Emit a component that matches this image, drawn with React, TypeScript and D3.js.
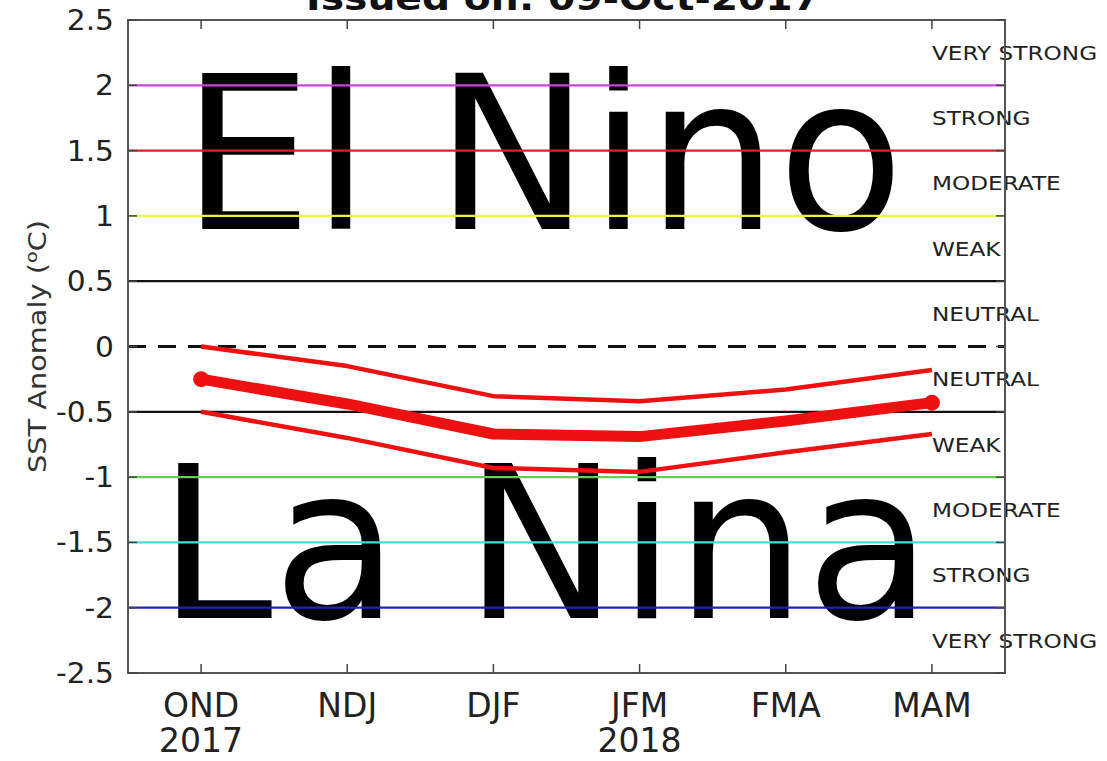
import React, { useEffect, useRef } from 'react'
import * as d3 from 'd3'

// ENSO forecast plume, issued 09-Oct-2017
const seasons = ['OND', 'NDJ', 'DJF', 'JFM', 'FMA', 'MAM']
const yearLabels = ['2017', '', '', '2018', '', '']
const meanValues = [-0.25, -0.44, -0.67, -0.69, -0.57, -0.43]
const upperValues = [0.0, -0.15, -0.38, -0.42, -0.33, -0.18]
const lowerValues = [-0.5, -0.7, -0.93, -0.96, -0.81, -0.67]
const yTicks = [2.5, 2, 1.5, 1, 0.5, 0, -0.5, -1, -1.5, -2, -2.5]
const thresholdValues = [2, 1.5, 1, 0.5, 0, -0.5, -1, -1.5, -2]
const thresholdColors = ['#cc44dd', '#dd2222', '#eeee55', '#111111', '#111111', '#111111', '#66cc55', '#44dddd', '#2222bb']
const categoryLabels = ['VERY STRONG', 'STRONG', 'MODERATE', 'WEAK', 'NEUTRAL', 'NEUTRAL', 'WEAK', 'MODERATE', 'STRONG', 'VERY STRONG']
const categoryMids = [2.25, 1.75, 1.25, 0.75, 0.25, -0.25, -0.75, -1.25, -1.75, -2.25]

const width = 1107
const height = 761
const font = 'DejaVu Sans, sans-serif'
// the reference text is a bit wider than it is tall
const stretch = 1.16

function App () {
  const ref = useRef<SVGSVGElement>(null)

  useEffect(() => {
    const svg = d3.select(ref.current)
    svg.selectAll('*').remove()

    const margin = { top: 20, right: 102, bottom: 88, left: 128 }
    const innerW = width - margin.left - margin.right
    const innerH = height - margin.top - margin.bottom

    const x = d3.scaleLinear().domain([-0.5, 5.5]).range([margin.left, margin.left + innerW])
    const y = d3.scaleLinear().domain([-2.5, 2.5]).range([margin.top + innerH, margin.top])

    // big background words
    svg.append('text')
      .attr('x', 182).attr('y', y(0.9))
      .attr('font-family', font).attr('font-size', 214)
      .attr('textLength', 722).attr('lengthAdjust', 'spacingAndGlyphs')
      .attr('fill', '#000')
      .text('El Nino')

    svg.append('text')
      .attr('x', 158).attr('y', y(-2.08))
      .attr('font-family', font).attr('font-size', 212)
      .attr('textLength', 774).attr('lengthAdjust', 'spacingAndGlyphs')
      .attr('fill', '#000')
      .text('La Nina')

    // threshold lines
    svg.append('g')
      .selectAll('line')
      .data(thresholdValues)
      .enter()
      .append('line')
      .attr('x1', x(-0.5)).attr('x2', x(5.5))
      .attr('y1', d => y(d)).attr('y2', d => y(d))
      .attr('stroke', (d, i) => thresholdColors[i])
      .attr('stroke-width', d => d === 0 ? 3 : 2.2)
      .attr('stroke-dasharray', d => d === 0 ? '18,12' : null)

    // category labels
    svg.append('g')
      .selectAll('text')
      .data(categoryLabels)
      .enter()
      .append('text')
      .attr('transform', (d, i) => 'translate(' + x(5) + ',' + y(categoryMids[i]) + ') scale(' + stretch + ',1)')
      .attr('dy', '0.36em')
      .attr('font-family', font).attr('font-size', 20)
      .attr('fill', '#222')
      .text(d => d)

    // plume lines
    const line = d3.line<number>()
      .x((d, i) => x(i))
      .y(d => y(d))

    svg.append('path').datum(upperValues)
      .attr('fill', 'none').attr('stroke', '#ee1111').attr('stroke-width', 4.5)
      .attr('stroke-linejoin', 'round').attr('d', line)
    svg.append('path').datum(lowerValues)
      .attr('fill', 'none').attr('stroke', '#ee1111').attr('stroke-width', 4.5)
      .attr('stroke-linejoin', 'round').attr('d', line)
    svg.append('path').datum(meanValues)
      .attr('fill', 'none').attr('stroke', '#ee1111').attr('stroke-width', 11)
      .attr('stroke-linejoin', 'round').attr('d', line)
    const ends = [0, meanValues.length - 1]
    svg.append('g')
      .selectAll('circle')
      .data(ends)
      .enter()
      .append('circle')
      .attr('cx', i => x(i)).attr('cy', i => y(meanValues[i]))
      .attr('r', 8)
      .attr('fill', '#ee1111')

    // frame
    svg.append('rect')
      .attr('x', x(-0.5)).attr('y', y(2.5))
      .attr('width', innerW).attr('height', innerH)
      .attr('fill', 'none').attr('stroke', '#555').attr('stroke-width', 2)

    // ticks inward
    const tickG = svg.append('g').attr('stroke', '#444').attr('stroke-width', 1.5)
    seasons.forEach((s, i) => {
      tickG.append('line').attr('x1', x(i)).attr('x2', x(i)).attr('y1', y(-2.5)).attr('y2', y(-2.5) - 9)
      tickG.append('line').attr('x1', x(i)).attr('x2', x(i)).attr('y1', y(2.5)).attr('y2', y(2.5) + 9)
    })
    yTicks.forEach(t => {
      tickG.append('line').attr('x1', x(-0.5)).attr('x2', x(-0.5) + 9).attr('y1', y(t)).attr('y2', y(t))
      tickG.append('line').attr('x1', x(5.5)).attr('x2', x(5.5) - 9).attr('y1', y(t)).attr('y2', y(t))
    })

    // y tick labels
    svg.append('g')
      .selectAll('text')
      .data(yTicks)
      .enter()
      .append('text')
      .attr('transform', d => 'translate(' + (x(-0.5) - 14) + ',' + y(d) + ') scale(1.06,1)')
      .attr('dy', '0.36em')
      .attr('text-anchor', 'end')
      .attr('font-family', font).attr('font-size', 28)
      .attr('fill', '#222')
      .text(d => String(d))

    // x tick labels
    const xl = svg.append('g')
      .attr('font-family', font).attr('font-size', 33)
      .attr('fill', '#222').attr('text-anchor', 'middle')
    seasons.forEach((s, i) => {
      xl.append('text').attr('x', x(i)).attr('y', 717).text(s)
      if (yearLabels[i]) xl.append('text').attr('x', x(i)).attr('y', 752).text(yearLabels[i])
    })

    // y axis label
    const yl = svg.append('text')
      .attr('transform', 'translate(46,' + y(0) + ') rotate(-90) scale(' + 1.2 + ',1)')
      .attr('text-anchor', 'middle')
      .attr('font-family', font).attr('font-size', 24)
      .attr('fill', '#333')
    yl.append('tspan').text('SST Anomaly (')
    yl.append('tspan').attr('baseline-shift', 'super').attr('font-size', 16).text('o')
    yl.append('tspan').text('C)')

    // title (cut at top)
    svg.append('text')
      .attr('transform', 'translate(563,10) scale(' + 1.19 + ',1)')
      .attr('text-anchor', 'middle')
      .attr('font-family', font).attr('font-size', 33).attr('font-weight', 'bold')
      .attr('fill', '#111')
      .text('Issued on: 09-Oct-2017')
  }, [])

  return (
    <svg ref={ref} width={width} height={height}
      style={{ position: 'absolute', left: 0, top: 0, background: '#fff' }} />
  )
}

export default App
